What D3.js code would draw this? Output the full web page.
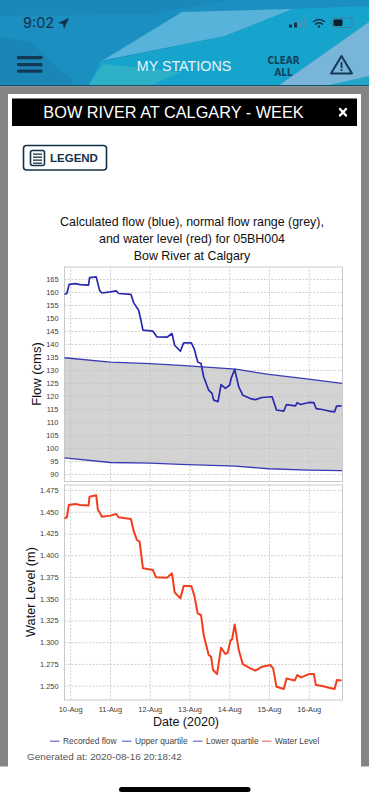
<!DOCTYPE html>
<html>
<head>
<meta charset="utf-8">
<title>Bow River at Calgary - Week</title>
<script src="https://cdn.jsdelivr.net/npm/d3@7"></script>
<style>
    html, body { margin: 0; padding: 0; background: #fff; }
    svg { display: block; font-family: "Liberation Sans", Arial, sans-serif; }
    .grid line { stroke: #c4c4c4; stroke-width: 0.8; stroke-dasharray: 2 1.5; }
    .tickLabels text { font-size: 7.4px; fill: #3c3c3c; font-family: "Liberation Sans", Arial, sans-serif; }
</style>
</head>
<body>
<svg class="page" width="369" height="800"></svg>
<script>
// x position of every reading is a fractional day of August 2020
var flowDays = [9.857, 9.916, 9.975, 10.126, 10.252, 10.462, 10.487, 10.655, 10.697, 10.739, 10.798, 11.008, 11.159, 11.217, 11.528, 11.595, 11.721, 11.78, 11.83, 12.082, 12.183, 12.435, 12.561, 12.628, 12.771, 12.855, 13.048, 13.123, 13.207, 13.291, 13.358, 13.484, 13.568, 13.61, 13.719, 13.795, 13.904, 14.014, 14.047, 14.139, 14.24, 14.341, 14.534, 14.66, 14.828, 15.08, 15.189, 15.374, 15.441, 15.668, 15.71, 15.794, 16.004, 16.13, 16.189, 16.34, 16.508, 16.651, 16.701, 16.827];
var flowValues = [159.1, 159.4, 162.95, 163.2, 162.8, 162.6, 165.5, 165.8, 163.2, 160.6, 159.6, 160.0, 160.4, 159.4, 159.1, 155.9, 153, 149.1, 145.3, 144.9, 142.7, 142.6, 144, 139.5, 137.2, 140.4, 140.4, 138, 133.1, 132.5, 127.4, 122.2, 121, 118.4, 117.8, 124.4, 122.9, 124.2, 126.7, 130.2, 123.5, 120.3, 119, 118.6, 119.4, 119.7, 114.6, 114.2, 116.7, 116.2, 117.4, 116.7, 117.5, 117.4, 115.1, 114.8, 114.2, 113.9, 116.1, 116.2];

var quartileDays = [9.857, 11.008, 12.015, 12.771, 14.157, 15.0, 16.0, 16.84];
var upperQuartile = [134.7, 133, 132.4, 131.8, 130.3, 128.3, 126.5, 124.8];
var lowerQuartile = [96.2, 94.4, 94.2, 93.7, 93, 92, 91.5, 91.3];

var levelDays = [9.857, 9.916, 9.966, 10.126, 10.252, 10.462, 10.487, 10.655, 10.697, 10.739, 10.798, 11.008, 11.159, 11.217, 11.528, 11.595, 11.679, 11.746, 11.83, 12.082, 12.158, 12.435, 12.561, 12.628, 12.771, 12.855, 13.048, 13.123, 13.207, 13.291, 13.358, 13.484, 13.543, 13.594, 13.694, 13.795, 13.904, 13.963, 14.03, 14.072, 14.139, 14.24, 14.341, 14.534, 14.66, 14.828, 15.038, 15.105, 15.189, 15.374, 15.441, 15.651, 15.71, 15.811, 16.004, 16.13, 16.18, 16.34, 16.508, 16.651, 16.71, 16.827];
var levelValues = [1.4424, 1.4436, 1.4578, 1.4589, 1.4578, 1.457, 1.4673, 1.4689, 1.452, 1.4494, 1.4443, 1.4455, 1.4474, 1.4436, 1.4417, 1.4282, 1.4175, 1.4156, 1.3849, 1.383, 1.3746, 1.3742, 1.3792, 1.3573, 1.3504, 1.3646, 1.3646, 1.3535, 1.3332, 1.3313, 1.3083, 1.2853, 1.2834, 1.268, 1.2634, 1.2937, 1.2864, 1.288, 1.3018, 1.3033, 1.3205, 1.291, 1.2749, 1.27, 1.2673, 1.2719, 1.2738, 1.27, 1.2489, 1.2462, 1.2584, 1.2561, 1.2623, 1.2596, 1.2634, 1.2634, 1.2508, 1.2496, 1.2477, 1.2462, 1.2565, 1.2561];

var dayTicks = [10, 11, 12, 13, 14, 15, 16];
var flowTicks = [90, 95, 100, 105, 110, 115, 120, 125, 130, 135, 140, 145, 150, 155, 160, 165];
var levelTicks = [1.25, 1.275, 1.3, 1.325, 1.35, 1.375, 1.4, 1.425, 1.45, 1.475];

var legendNames = ["Recorded flow", "Upper quartile", "Lower quartile", "Water Level"];
var legendColors = ["#8b84d8", "#8b84d8", "#8b84d8", "#f0958a"];

var svg = d3.select(".page");

// shared x scale for both stacked plots
var plotLeft = 64.5, plotRight = 342.5;
var x = d3.scaleLinear().domain([9.857, 16.85]).range([plotLeft, plotRight]);

drawPhoneChrome();
drawFlowPlot();
drawLevelPlot();
drawChartText();

function drawPhoneChrome() {
    var header = svg.append("g");
    header.append("rect").attr("width", 369).attr("height", 86).attr("fill", "#1c8fc1");
    var shapes = [
        {points: "0,0 230,0 150,14 0,16", fill: "#1a88b9"},
        {points: "0,37 30,42 72,80 70,86 0,86", fill: "#1a86b5"},
        {points: "100,62 182,12 293,9 225,36 105,60", fill: "#58b3da"},
        {points: "88,86 100,62 225,36 293,9 369,6 369,22 278,86", fill: "#17a4cc"},
        {points: "278,86 369,22 369,80 330,86", fill: "#78b5d8"},
        {points: "88,86 103,64 180,72 150,86", fill: "#2eb0c6"},
        {points: "325,86 369,76 369,86", fill: "#23a6c8"}
    ];
    header.selectAll("polygon").data(shapes).enter().append("polygon")
            .attr("points", function (s) { return s.points; })
            .attr("fill", function (s) { return s.fill; });
    header.append("rect").attr("y", 85).attr("width", 369).attr("height", 1.5).attr("fill", "#14506a");

    // status bar
    header.append("text").attr("x", 23).attr("y", 28).attr("font-size", 14.5)
            .attr("fill", "#123349").attr("font-family", "Inter, sans-serif").text("9:02");
    header.append("path").attr("d", "M58,23 L69,18 L64,29 L63,24 Z").attr("fill", "#123349");
    [[289, 3], [294, 5], [298.5, 7], [303, 9]].forEach(function (b, i) {
        header.append("rect").attr("x", b[0]).attr("y", 27.5 - b[1]).attr("width", 3).attr("height", b[1])
                .attr("fill", i < 2 ? "#123349" : "#4a93b8");
    });
    header.append("path").attr("d", "M313,22 Q319,17 325,22 M315,24.5 Q319,21 323,24.5")
            .attr("fill", "none").attr("stroke", "#123349").attr("stroke-width", 1.6);
    header.append("circle").attr("cx", 319).attr("cy", 26.5).attr("r", 1.2).attr("fill", "#123349");
    header.append("rect").attr("x", 332).attr("y", 18).attr("width", 20).attr("height", 9.5).attr("rx", 2)
            .attr("fill", "none").attr("stroke", "#3c7f9e").attr("stroke-width", 1);
    header.append("rect").attr("x", 333.5).attr("y", 19.5).attr("width", 9).attr("height", 6.5).attr("rx", 1).attr("fill", "#0c1f2c");

    // nav bar
    [56, 63, 69.5].forEach(function (y) {
        header.append("rect").attr("x", 17).attr("y", y).attr("width", 25.5).attr("height", 3.3).attr("rx", 1).attr("fill", "#123a56");
    });
    header.append("text").attr("x", 184).attr("y", 71).attr("text-anchor", "middle")
            .attr("font-size", 14.3).attr("fill", "#e6f4fa").text("MY STATIONS");
    [["CLEAR", 64], ["ALL", 75.5]].forEach(function (t) {
        header.append("text").attr("x", 283.5).attr("y", t[1]).attr("text-anchor", "middle")
                .attr("font-size", 11).attr("font-weight", "bold").attr("fill", "#12405e")
                .attr("font-family", "'DejaVu Sans Condensed', 'Liberation Sans Narrow', sans-serif")
                .attr("textLength", t[0] == "ALL" ? 18 : 32).attr("lengthAdjust", "spacingAndGlyphs").text(t[0]);
    });
    header.append("path").attr("d", "M341.5,56 L352,73.5 L331,73.5 Z").attr("fill", "none")
            .attr("stroke", "#123a56").attr("stroke-width", 2).attr("stroke-linejoin", "round");
    header.append("rect").attr("x", 340.6).attr("y", 62).attr("width", 1.8).attr("height", 6).attr("fill", "#123a56");
    header.append("rect").attr("x", 340.6).attr("y", 69).attr("width", 1.8).attr("height", 1.8).attr("fill", "#123a56");

    // grey backdrop and white panel
    svg.append("rect").attr("y", 86.5).attr("width", 369).attr("height", 680).attr("fill", "#848484");
    svg.append("rect").attr("x", 8).attr("y", 94).attr("width", 353).attr("height", 673).attr("fill", "#fff");
    svg.append("rect").attr("x", 12).attr("y", 98.5).attr("width", 345).attr("height", 27.5).attr("fill", "#000");
    svg.append("text").attr("x", 173.5).attr("y", 118).attr("text-anchor", "middle")
            .attr("font-size", 16.3).attr("fill", "#fff").text("BOW RIVER AT CALGARY - WEEK");
    svg.append("path").attr("d", "M340,109 L346,115.5 M346,109 L340,115.5")
            .attr("stroke", "#fff").attr("stroke-width", 2.4).attr("stroke-linecap", "round");

    // legend button
    svg.append("rect").attr("x", 23.5).attr("y", 145.5).attr("width", 83).attr("height", 24.5).attr("rx", 3)
            .attr("fill", "#fff").attr("stroke", "#123247").attr("stroke-width", 1.6);
    svg.append("rect").attr("x", 30.5).attr("y", 150.5).attr("width", 14).attr("height", 15).attr("rx", 2)
            .attr("fill", "none").attr("stroke", "#123247").attr("stroke-width", 1.6);
    [154, 157, 160, 163].forEach(function (y) {
        svg.append("rect").attr("x", 33).attr("y", y - 0.5).attr("width", 9).attr("height", 1.3).attr("fill", "#123247");
    });
    svg.append("text").attr("x", 50).attr("y", 162).attr("font-size", 11.5).attr("font-weight", "bold")
            .attr("fill", "#123247").text("LEGEND");

    svg.append("rect").attr("x", 119).attr("y", 787).attr("width", 131.5).attr("height", 5).attr("rx", 2.5).attr("fill", "#000");
}

function drawGrid(plot, top, bottom, y, yTicks, yFormat, showDates) {
    var yAxis = plot.append("g")
            .attr("class", "grid tickLabels")
            .attr("transform", "translate(" + plotLeft + ",0)")
            .call(d3.axisLeft(y).tickValues(yTicks).tickFormat(yFormat)
                    .tickSizeInner(-(plotRight - plotLeft)).tickSizeOuter(0).tickPadding(6));
    yAxis.select(".domain").remove();

    var xAxis = plot.append("g")
            .attr("class", "grid tickLabels")
            .attr("transform", "translate(0," + bottom + ")")
            .call(d3.axisBottom(x).tickValues(dayTicks)
                    .tickFormat(function (d) { return showDates ? d + "-Aug" : ""; })
                    .tickSizeInner(-(bottom - top)).tickSizeOuter(0).tickPadding(7));
    xAxis.select(".domain").remove();

    plot.append("rect").attr("x", plotLeft).attr("y", top).attr("width", plotRight - plotLeft).attr("height", bottom - top)
            .attr("fill", "none").attr("stroke", "#c9c9c9").attr("stroke-width", 1);
}

function addLine(plot, days, values, y, color, width) {
    var line = d3.line()
            .x(function (d, i) { return x(days[i]); })
            .y(function (d) { return y(d); });
    plot.append("path").datum(values)
            .attr("d", line)
            .attr("fill", "none")
            .attr("stroke", color)
            .attr("stroke-width", width)
            .attr("stroke-linejoin", "round");
}

function drawFlowPlot() {
    var top = 267, bottom = 481.5;
    var y = d3.scaleLinear().domain([87.1, 169.6]).range([bottom, top]);
    var plot = svg.append("g");

    var band = d3.area()
            .x(function (d) { return x(d); })
            .y0(function (d, i) { return y(lowerQuartile[i]); })
            .y1(function (d, i) { return y(upperQuartile[i]); });
    plot.append("path").datum(quartileDays).attr("d", band).attr("fill", "#d3d3d3");

    drawGrid(plot, top, bottom, y, flowTicks, d3.format("d"), false);
    addLine(plot, quartileDays, upperQuartile, y, "#3a3ab4", 1.3);
    addLine(plot, quartileDays, lowerQuartile, y, "#3a3ab4", 1.3);
    addLine(plot, flowDays, flowValues, y, "#2a2ab0", 1.7);
}

function drawLevelPlot() {
    var top = 485, bottom = 700;
    var y = d3.scaleLinear().domain([1.2336, 1.4807]).range([bottom, top]);
    var plot = svg.append("g");
    drawGrid(plot, top, bottom, y, levelTicks, d3.format(".3f"), true);
    addLine(plot, levelDays, levelValues, y, "#f23d1e", 2);
}

function drawChartText() {
    var titleLines = [
        ["Calculated flow (blue), normal flow range (grey),", 225.5],
        ["and water level (red) for 05BH004", 242.5],
        ["Bow River at Calgary", 260]
    ];
    svg.selectAll(".chartTitle").data(titleLines).enter().append("text")
            .attr("class", "chartTitle")
            .attr("x", 192)
            .attr("y", function (d) { return d[1]; })
            .attr("text-anchor", "middle")
            .attr("font-size", 12.4)
            .attr("fill", "#111")
            .text(function (d) { return d[0]; });

    svg.append("text")
            .attr("transform", "translate(40.5,374) rotate(-90)")
            .attr("text-anchor", "middle").attr("font-size", 13).attr("fill", "#111")
            .text("Flow (cms)");
    svg.append("text")
            .attr("transform", "translate(35,592) rotate(-90)")
            .attr("text-anchor", "middle").attr("font-size", 12.7).attr("fill", "#111")
            .text("Water Level (m)");
    svg.append("text")
            .attr("x", 186).attr("y", 726).attr("text-anchor", "middle")
            .attr("font-size", 12.5).attr("fill", "#111")
            .text("Date (2020)");

    var swatchStarts = [50, 122, 193, 262];
    var legendRow = svg.selectAll(".legendRow").data(legendNames).enter().append("g")
            .attr("class", "legendRow")
            .attr("transform", function (d, i) { return "translate(" + swatchStarts[i] + ",741)"; });
    legendRow.append("rect").attr("y", -0.5).attr("width", 9.5).attr("height", 1.5)
            .attr("fill", function (d, i) { return legendColors[i]; });
    legendRow.append("text").attr("x", 13).attr("y", 3).attr("font-size", 8.4).attr("fill", "#444")
            .text(function (d) { return d; });

    svg.append("text").attr("x", 27).attr("y", 759.5).attr("font-size", 9.9).attr("fill", "#555")
            .text("Generated at: 2020-08-16 20:18:42");
}
</script>
</body>
</html>
